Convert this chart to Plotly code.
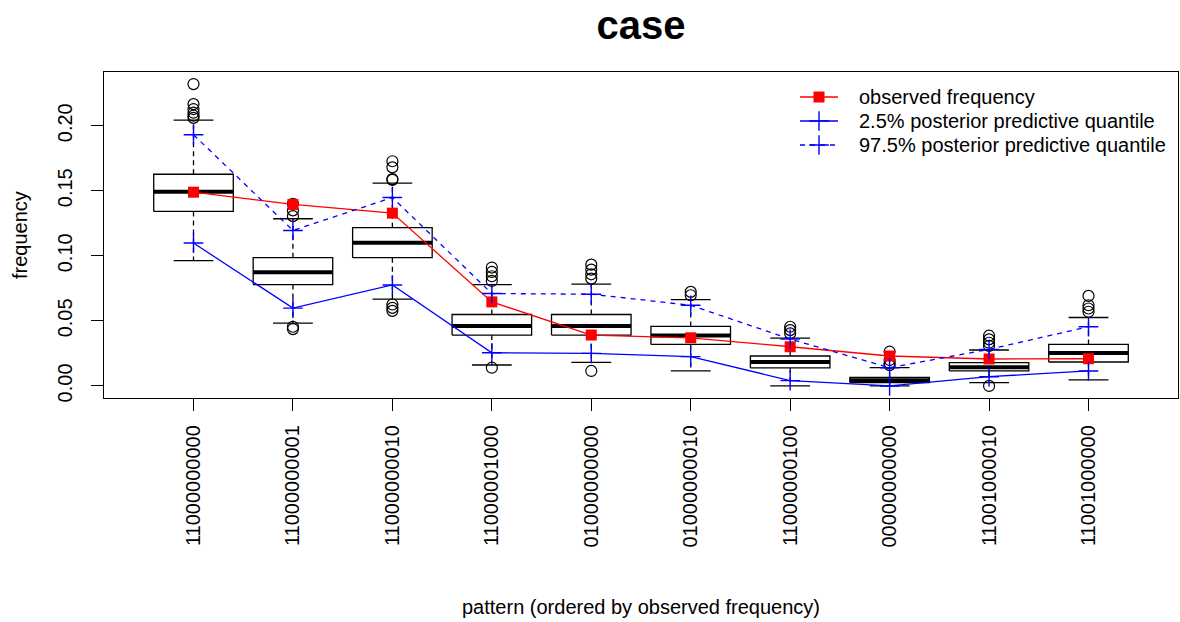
import plotly.graph_objects as go

# ---------------- data ----------------
patterns = ["11000000000", "11000000001", "11000000010", "11000001000", "01000000000",
            "01000000010", "11000000100", "00000000000", "11001000010", "11001000000"]

box_low = [0.0963, 0.0483, 0.0667, 0.0161, 0.0181, 0.0115, 0.0000, 0.0000, 0.0026, 0.0046]
box_q1 = [0.1341, 0.0779, 0.0986, 0.0391, 0.0391, 0.0319, 0.0138, 0.0026, 0.0115, 0.0184]
box_median = [0.1492, 0.0874, 0.1101, 0.0460, 0.0460, 0.0388, 0.0184, 0.0043, 0.0143, 0.0253]
box_q3 = [0.1627, 0.0986, 0.1216, 0.0549, 0.0549, 0.0457, 0.0230, 0.0066, 0.0179, 0.0319]
box_high = [0.2043, 0.1285, 0.1558, 0.0779, 0.0782, 0.0664, 0.0368, 0.0140, 0.0276, 0.0526]
box_outliers = [
    [0.232, 0.2166, 0.2128, 0.2100, 0.2077, 0.2060],
    [0.1400, 0.1349, 0.1305, 0.0455, 0.0437],
    [0.1727, 0.1680, 0.1590, 0.1584, 0.0626, 0.0600, 0.0577],
    [0.0910, 0.0876, 0.0843, 0.0807, 0.0140],
    [0.0932, 0.0894, 0.0858, 0.0825, 0.0115],
    [0.0723, 0.0697],
    [0.0455, 0.0429, 0.0404],
    [0.0263, 0.0199, 0.0174, 0.0160],
    [0.0386, 0.0358, 0.0332, 0.0307, 0.0000],
    [0.0692, 0.0620, 0.0595, 0.0570],
]

observed = [0.1489, 0.1395, 0.1328, 0.0646, 0.0391, 0.0370, 0.0301, 0.0230, 0.0207, 0.0209]
q025 = [0.1098, 0.0598, 0.0776, 0.0255, 0.0250, 0.0225, 0.0041, 0.0000, 0.0071, 0.0115]
q975 = [0.1931, 0.1195, 0.1448, 0.0710, 0.0705, 0.0620, 0.0360, 0.0140, 0.0281, 0.0455]

series_names = ["observed frequency", "2.5% posterior predictive quantile",
                "97.5% posterior predictive quantile"]

# ---------------- style ----------------
FONT = "Liberation Sans, Arial, Helvetica, sans-serif"
HALF = 0.4      # half box width (R boxwex 0.8)
STAPLE = 0.2    # half staple width
LW = 1.3

L, R, T, B = 104, 2, 72, 224
W, H = 1180, 622
plot_h = H - T - B
plot_w = W - L - R

red_line = dict(color="red", width=LW)
red_marker = dict(symbol="square", size=11, color="red")
blue_line = dict(color="blue", width=LW)
blue_dash = dict(color="blue", width=LW, dash="5px,5px")
blue_marker = dict(symbol="cross-thin", size=14, color="blue", line=dict(color="blue", width=1.4))
styles = [(red_line, red_marker), (blue_line, blue_marker), (blue_dash, blue_marker)]

n = len(patterns)
xs = list(range(1, n + 1))

fig = go.Figure()

# box rectangles
bx, by = [], []
for i, x in enumerate(xs):
    bx += [x - HALF, x + HALF, x + HALF, x - HALF, x - HALF, None]
    by += [box_q1[i], box_q1[i], box_q3[i], box_q3[i], box_q1[i], None]
fig.add_trace(go.Scatter(x=bx, y=by, mode="lines", fill="toself", fillcolor="white",
                         line=dict(color="black", width=LW), showlegend=False, hoverinfo="skip"))

# dashed whiskers
wx, wy = [], []
for i, x in enumerate(xs):
    wx += [x, x, None, x, x, None]
    wy += [box_q3[i], box_high[i], None, box_q1[i], box_low[i], None]
fig.add_trace(go.Scatter(x=wx, y=wy, mode="lines", line=dict(color="black", width=LW, dash="5px,4px"),
                         showlegend=False, hoverinfo="skip"))

# staples
sx, sy = [], []
for i, x in enumerate(xs):
    sx += [x - STAPLE, x + STAPLE, None, x - STAPLE, x + STAPLE, None]
    sy += [box_high[i], box_high[i], None, box_low[i], box_low[i], None]
fig.add_trace(go.Scatter(x=sx, y=sy, mode="lines", line=dict(color="black", width=LW),
                         showlegend=False, hoverinfo="skip"))

# medians
mx, my = [], []
for i, x in enumerate(xs):
    mx += [x - HALF, x + HALF, None]
    my += [box_median[i], box_median[i], None]
fig.add_trace(go.Scatter(x=mx, y=my, mode="lines", line=dict(color="black", width=4),
                         showlegend=False, hoverinfo="skip"))

# outliers
ox, oy = [], []
for i, x in enumerate(xs):
    for v in box_outliers[i]:
        ox.append(x)
        oy.append(v)
fig.add_trace(go.Scatter(x=ox, y=oy, mode="markers",
                         marker=dict(symbol="circle-open", size=11, color="black", line=dict(width=1.2)),
                         showlegend=False, hoverinfo="skip"))

# series
for vals, name, (ln, mk) in zip([observed, q025, q975], series_names, styles):
    fig.add_trace(go.Scatter(x=xs, y=vals, mode="lines+markers", name=name,
                             line=ln, marker=mk, showlegend=False))

# ---------- manual legend (R style) on a pixel-space overlay axis ----------
LEG_X0, LEG_X1, LEG_TXT, LEG_Y0, LEG_DY = 800, 838, 857, 97, 24
annotations = []
for k, (name, (ln, mk)) in enumerate(zip(series_names, styles)):
    yk = LEG_Y0 + k * LEG_DY
    fig.add_trace(go.Scatter(x=[LEG_X0, LEG_X1], y=[yk, yk], mode="lines", line=ln,
                             xaxis="x2", yaxis="y2", showlegend=False, hoverinfo="skip"))
    fig.add_trace(go.Scatter(x=[(LEG_X0 + LEG_X1) / 2], y=[yk], mode="markers", marker=mk,
                             xaxis="x2", yaxis="y2", showlegend=False, hoverinfo="skip"))
    annotations.append(dict(text=name, xref="x2", yref="y2", x=LEG_TXT, y=yk,
                            xanchor="left", yanchor="middle", showarrow=False,
                            font=dict(size=20)))

# ranges like R (4% extension)
all_vals = box_low + box_high + observed + q025 + q975 + [v for o in box_outliers for v in o]
ymin, ymax = min(all_vals), max(all_vals)
pad = 0.04 * (ymax - ymin)
xpad = 0.04 * n

annotations += [
    dict(text="pattern (ordered by observed frequency)", xref="paper", yref="paper",
         x=0.5, y=-(607 - (H - B)) / plot_h, xanchor="center", yanchor="middle",
         showarrow=False, font=dict(size=20)),
    dict(text="frequency", xref="paper", yref="paper", x=(20 - L) / plot_w, y=0.5,
         xanchor="center", yanchor="middle", textangle=-90, showarrow=False, font=dict(size=20)),
]

fig.update_layout(
    width=W, height=H, autosize=False,
    margin=dict(l=L, r=R, t=T, b=B),
    paper_bgcolor="white", plot_bgcolor="white",
    font=dict(family=FONT, size=20, color="black"),
    showlegend=False,
    title=dict(text="<b>case</b>", x=0.5, xref="paper", xanchor="center",
               y=1 - 25 / H, yref="container", yanchor="middle",
               font=dict(family=FONT, size=40, color="black")),
    xaxis=dict(range=[0.5 - xpad, n + 0.5 + xpad], tickmode="array", tickvals=xs, ticktext=patterns,
               tickangle=-90, ticks="outside", ticklen=12, tickwidth=LW, tickcolor="black",
               ticklabelstandoff=6,
               showline=True, linecolor="black", linewidth=LW, mirror=True,
               showgrid=False, zeroline=False, tickfont=dict(size=20)),
    yaxis=dict(range=[ymin - pad, ymax + pad], tickmode="array",
               tickvals=[0, 0.05, 0.10, 0.15, 0.20], ticktext=["0.00", "0.05", "0.10", "0.15", "0.20"],
               tickangle=-90, ticks="outside", ticklen=12, tickwidth=LW, tickcolor="black",
               ticklabelstandoff=11,
               showline=True, linecolor="black", linewidth=LW, mirror=True,
               showgrid=False, zeroline=False, tickfont=dict(size=20)),
    xaxis2=dict(overlaying="x", range=[L, W - R], visible=False, fixedrange=True),
    yaxis2=dict(overlaying="y", range=[H - B, T], visible=False, fixedrange=True),
    annotations=annotations,
)

fig.write_html("out.html")
